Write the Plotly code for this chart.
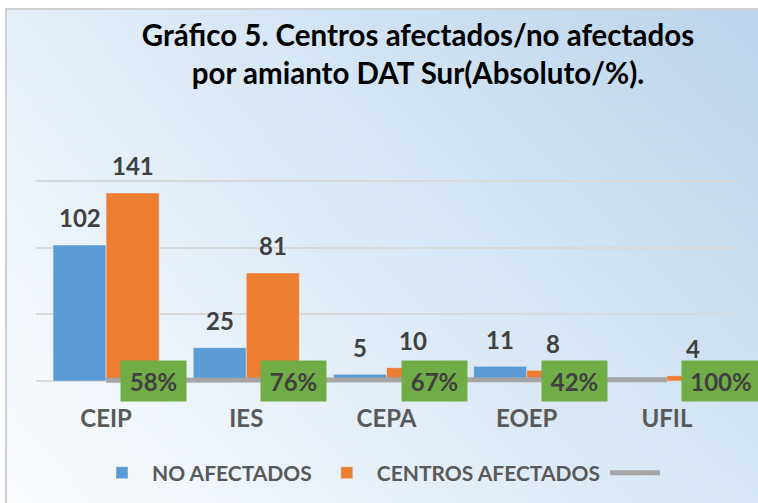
import plotly.graph_objects as go

categories = ["CEIP", "IES", "CEPA", "EOEP", "UFIL"]
no_afectados = [102, 25, 5, 11, None]
centros_afectados = [141, 81, 10, 8, 4]
porcentaje = [0.58, 0.76, 0.67, 0.42, 1.00]

title_text = "Gráfico 5. Centros afectados/no afectados<br>por amianto DAT Sur(Absoluto/%)."

W, H = 758, 503
BLUE, ORANGE, GRAY, GREEN = "#5b9bd5", "#ed7d31", "#a5a5a5", "#70ad47"
LABEL = "#404040"
AXIS = "#595959"
FONT = "Lato"

BARGAP = 0.244
YMIN, YMAX = -4, 151

# plot area in pixels
px_l, px_r = 36, 737
px_150, px_zero = 181, 381
ppu = (px_zero - px_150) / 150.0
px_bottom = px_zero - YMIN * ppu
px_top = px_zero - YMAX * ppu

fig = go.Figure()

# background gradient (heatmap on its own axes spanning the chart area)
fig.add_trace(go.Heatmap(
    x=[0, 1], y=[0, 1], z=[[0.0, 0.55], [0.32, 1.0]],
    colorscale=[[0, "#fafcfe"], [0.55, "#d6e6f4"], [1, "#bad4ec"]],
    zmin=0, zmax=1, zsmooth="best", showscale=False, hoverinfo="skip",
    xaxis="x", yaxis="y",
))

fig.add_trace(go.Bar(
    name="NO AFECTADOS", x=categories, y=no_afectados, marker_color=BLUE,
    xaxis="x2", yaxis="y2",
))
fig.add_trace(go.Bar(
    name="CENTROS AFECTADOS", x=categories, y=centros_afectados, marker_color=ORANGE,
    xaxis="x2", yaxis="y2",
))
fig.add_trace(go.Scatter(
    name=" ", x=categories, y=porcentaje, mode="lines",
    line=dict(color=GRAY, width=5), xaxis="x2", yaxis="y2",
))

annotations = []
off = (1 - BARGAP) / 4.0
for i, (a, b) in enumerate(zip(no_afectados, centros_afectados)):
    for val, dx in ((a, -off), (b, off)):
        if val is None:
            continue
        annotations.append(dict(
            x=i + dx, y=val, xref="x2", yref="y2", text=str(val), showarrow=False,
            yanchor="middle", yshift=27,
            font=dict(family=FONT, size=24, color=LABEL, weight="bold"),
        ))
for i, p in enumerate(porcentaje):
    txt = f"{round(p * 100)}%"
    annotations.append(dict(
        x=i, y=p, xref="x2", yref="y2", text=txt, showarrow=False,
        xanchor="left", yanchor="middle", xshift=14, yshift=-1,
        bgcolor=GREEN, borderpad=8, width=49 if len(txt) == 3 else 62, height=24,
        font=dict(family=FONT, size=24, color=LABEL, weight="bold"),
    ))

fig.update_layout(
    width=W, height=H,
    margin=dict(l=0, r=0, t=0, b=0),
    paper_bgcolor="white", plot_bgcolor="rgba(0,0,0,0)",
    barmode="group", bargap=BARGAP, bargroupgap=0,
    title=dict(
        text=title_text, x=418 / W, xanchor="center", xref="paper",
        y=1 - 46 / H, yanchor="top", yref="container",
        font=dict(family=FONT, size=29.5, color="black", weight="bold"),
    ),
    xaxis=dict(domain=[6 / W, 1], range=[0, 1], visible=False, fixedrange=True),
    yaxis=dict(domain=[0, 1 - 10 / H], range=[0, 1], visible=False, fixedrange=True),
    xaxis2=dict(
        domain=[px_l / W, px_r / W], anchor="y2", showgrid=False, ticks="",
        range=[-0.5, len(categories) - 0.5], autorange=False,
        showline=False, ticklabelstandoff=16,
        tickfont=dict(family=FONT, size=24, color=AXIS, weight="bold"),
    ),
    yaxis2=dict(
        domain=[1 - px_bottom / H, 1 - px_top / H], anchor="x2",
        range=[YMIN, YMAX], autorange=False, tickvals=[0, 50, 100, 150],
        showticklabels=False,
        showgrid=True, gridcolor="#d9d9d9", gridwidth=1.5,
        zeroline=True, zerolinecolor="#d9d9d9", zerolinewidth=1.5,
    ),
    legend=dict(
        orientation="h", x=384 / W, xanchor="center", y=1 - 473 / H, yanchor="middle",
        font=dict(family=FONT, size=21, color=AXIS, weight="bold"),
        bgcolor="rgba(0,0,0,0)", itemwidth=50,
    ),
    annotations=annotations,
    shapes=[dict(
        type="rect", xref="paper", yref="paper", x0=6 / W, x1=1.2,
        y0=-0.2, y1=1 - 9 / H, line=dict(color="#d0d0d0", width=2),
        fillcolor="rgba(0,0,0,0)", layer="above",
    )],
)

fig.write_html("out.html", config={"displayModeBar": False},
               post_script="document.body.style.margin='0';")
